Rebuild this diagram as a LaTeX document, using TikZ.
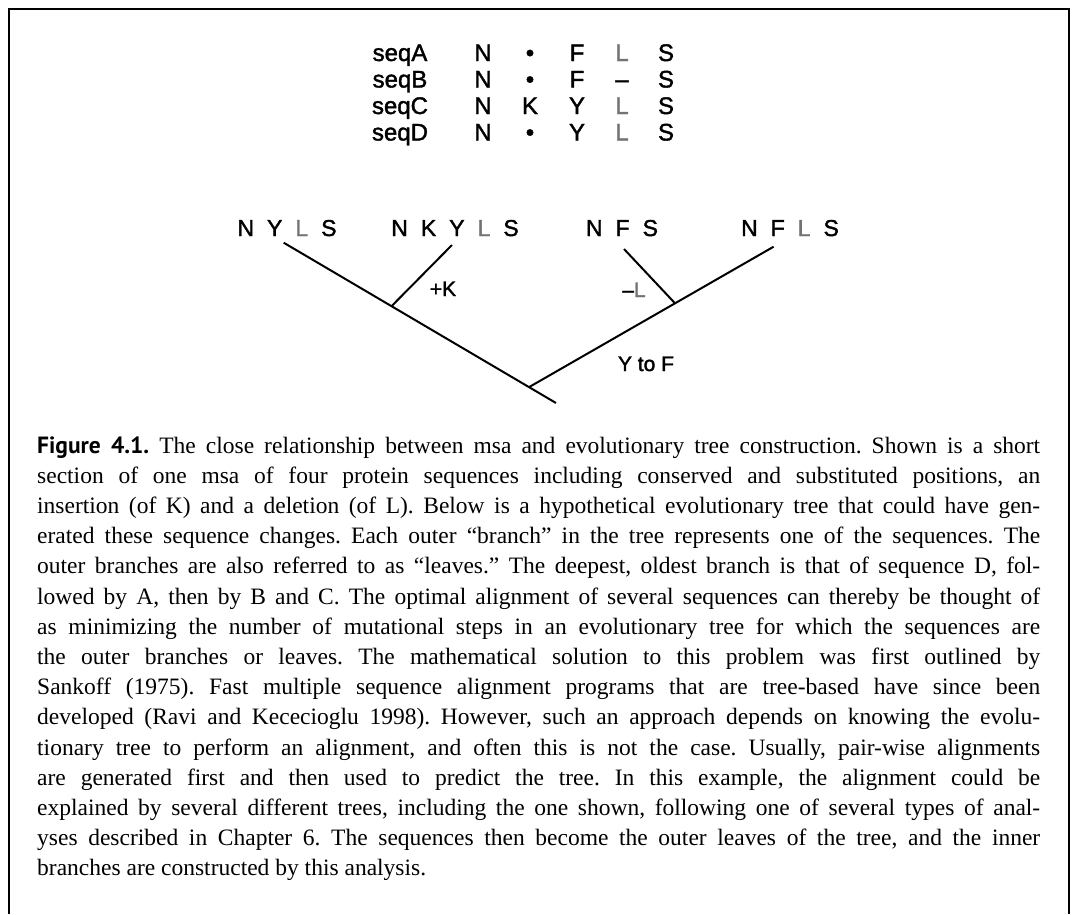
\documentclass[tikz,border=0pt]{standalone}
\usepackage{fontspec}
\setmainfont{Liberation Serif}
\newfontfamily\seqf[FakeBold=1.6]{Liberation Sans}
\newfontfamily\figf{PT Sans}
\usetikzlibrary{calc}
\definecolor{lgray}{gray}{0.45}
\newcommand\gp{\hspace{13pt}}
\newcommand\gL{\textcolor{lgray}{L}}
\newcommand\capl[1]{\hbox to 1003pt{#1}}
\tikzset{
  frame/.style={line width=1.4pt, black},
  branch/.style={line width=2pt, black},
  seq/.style={font=\seqf\fontsize{24}{26}\selectfont, inner sep=0, anchor=base},
  leaf/.style={font=\seqf\fontsize{23}{26}\selectfont, inner sep=0, anchor=base},
  mut/.style={font=\seqf\fontsize{21}{24}\selectfont, inner sep=0, anchor=base},
}
\begin{document}
\begin{tikzpicture}[x=1pt,y=-1pt]
\useasboundingbox (0,0) rectangle (1072,914);
\fill[white] (0,0) rectangle (1072,914);
% frame (open at the bottom)
\draw[frame] (9,914) -- (9,9) -- (1069,9) -- (1069,914);

% alignment
\foreach \r/\y/\b/\c/\d/\e in {A/61/{•}/F/{\gL}/S, B/87.5/{•}/F/{–}/S, C/114/K/Y/{\gL}/S, D/140.5/{•}/Y/{\gL}/S}{
  \node[seq] (lab\r) at (400,\y) {seq\r};
  \node[seq] (c1\r) at (483,\y) {N};
  \node[seq] (c2\r) at (530,\y) {\b};
  \node[seq] (c3\r) at (577,\y) {\c};
  \node[seq] (c4\r) at (622,\y) {\d};
  \node[seq] (c5\r) at (666,\y) {\e};
}

% leaves
\node[leaf] (lD) at (287,236) {N\gp Y\gp \gL\gp S};
\node[leaf] (lC) at (455,236) {N\gp K\gp Y\gp \gL\gp S};
\node[leaf] (lB) at (622,236) {N\gp F\gp S};
\node[leaf] (lA) at (790,236) {N\gp F\gp \gL\gp S};

% tree
\coordinate (tD) at (283.7,242.7);
\coordinate (tC) at (452,245);
\coordinate (tB) at (624,249);
\coordinate (tA) at (773.6,246.7);
\coordinate (bot) at (556,403);
\coordinate (nK) at ($(tD)!0.396!(bot)$);
\coordinate (root) at ($(tD)!0.901!(bot)$);
\coordinate (nL) at ($(root)!0.597!(tA)$);
\draw[branch] (tD) -- (bot);
\draw[branch] (tC) -- (nK);
\draw[branch] (root) -- (tA);
\draw[branch] (tB) -- (nL);

\node[mut] (mK) at (443,296) {+K};
\node[mut] (mL) at (634,297) {–\gL};
\node[mut] (mY) at (646,371) {Y to F};

% caption
\node[anchor=base west, inner sep=0] (cap) at (37,453) {\fontsize{23.5}{30.2}\selectfont\frenchspacing\vtop{%
\capl{{\figf\bfseries Figure 4.1.} The close relationship between msa and evolutionary tree construction. Shown is a short}
\capl{section of one msa of four protein sequences including conserved and substituted positions, an}
\capl{insertion (of K) and a deletion (of L). Below is a hypothetical evolutionary tree that could have gen-}
\capl{erated these sequence changes. Each outer “branch” in the tree represents one of the sequences. The}
\capl{outer branches are also referred to as “leaves.” The deepest, oldest branch is that of sequence D, fol-}
\capl{lowed by A, then by B and C. The optimal alignment of several sequences can thereby be thought of}
\capl{as minimizing the number of mutational steps in an evolutionary tree for which the sequences are}
\capl{the outer branches or leaves. The mathematical solution to this problem was first outlined by}
\capl{Sankoff (1975). Fast multiple sequence alignment programs that are tree-based have since been}
\capl{developed (Ravi and Kececioglu 1998). However, such an approach depends on knowing the evolu-}
\capl{tionary tree to perform an alignment, and often this is not the case. Usually, pair-wise alignments}
\capl{are generated first and then used to predict the tree. In this example, the alignment could be}
\capl{explained by several different trees, including the one shown, following one of several types of anal-}
\capl{yses described in Chapter 6. The sequences then become the outer leaves of the tree, and the inner}
\hbox{branches are constructed by this analysis.}}};
\end{tikzpicture}
\end{document}
